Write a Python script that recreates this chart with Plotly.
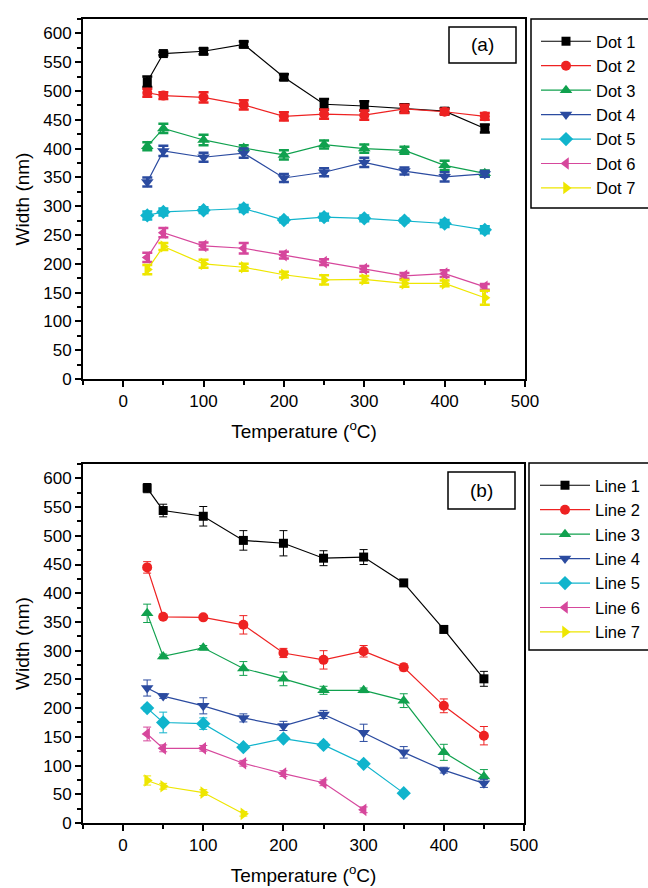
import plotly.graph_objects as go

# Annealing temperatures (°C)
temps = [30, 50, 100, 150, 200, 250, 300, 350, 400, 450]

# (a) dot widths (nm) and error estimates
dot1 = [516, 565, 569, 581, 524, 477, 474, 470, 465, 435]
dot1_err = [9, 3, 5, 5, 5, 9, 8, 7, 5, 7]
dot2 = [497, 492, 489, 476, 456, 460, 458, 469, 464, 456]
dot2_err = [7, 6, 9, 8, 7, 8, 8, 7, 5, 6]
dot3 = [404, 435, 415, 401, 389, 407, 400, 397, 371, 357]
dot3_err = [7, 8, 9, 5, 8, 7, 7, 6, 8, 5]
dot4 = [342, 396, 385, 392, 349, 359, 376, 361, 351, 356]
dot4_err = [8, 9, 8, 8, 7, 7, 8, 6, 8, 5]
dot5 = [284, 290, 293, 296, 276, 281, 279, 275, 270, 259]
dot5_err = [7, 6, 5, 6, 4, 6, 5, 3, 6, 6]
dot6 = [211, 254, 231, 227, 215, 203, 191, 179, 183, 160]
dot6_err = [8, 8, 6, 9, 6, 5, 5, 5, 6, 5]
dot7 = [190, 230, 200, 194, 181, 172, 173, 166, 166, 141]
dot7_err = [8, 6, 7, 6, 5, 8, 6, 6, 5, 12]

# (b) line widths (nm) and error estimates
line1 = [583, 544, 534, 492, 487, 461, 463, 418, 337, 251]
line1_err = [8, 11, 17, 17, 22, 13, 13, 3, 6, 13]
line2 = [445, 359, 358, 345, 296, 284, 299, 271, 204, 152]
line2_err = [10, 3, 3, 16, 8, 16, 10, 6, 12, 16]
line3 = [365, 290, 305, 269, 251, 231, 231, 213, 123, 81]
line3_err = [16, 4, 4, 12, 12, 7, 4, 12, 14, 12]
line4 = [235, 221, 204, 183, 169, 189, 157, 123, 92, 69]
line4_err = [14, 4, 14, 7, 8, 7, 15, 10, 5, 7]
line5 = [200, 175, 173, 132, 147, 136, 103, 52]
line5_err = [5, 18, 10, 4, 4, 5, 3, 3]
line6 = [155, 130, 130, 104, 86, 70, 23]
line6_err = [12, 6, 5, 5, 5, 5, 5]
line7 = [74, 64, 53, 16]
line7_err = [8, 5, 5, 4]

colors = ["#000000", "#ee2222", "#10a14e", "#2b4ba0", "#10b4cc", "#d6479c", "#eee600"]
symbols = ["square", "circle", "triangle-up", "triangle-down", "diamond",
           "triangle-left", "triangle-right"]
sizes = [9, 10, 11, 11, 11, 11, 11]

dots = [dot1, dot2, dot3, dot4, dot5, dot6, dot7]
dot_errs = [dot1_err, dot2_err, dot3_err, dot4_err, dot5_err, dot6_err, dot7_err]
dot_names = ["Dot 1", "Dot 2", "Dot 3", "Dot 4", "Dot 5", "Dot 6", "Dot 7"]
lines = [line1, line2, line3, line4, line5, line6, line7]
line_errs = [line1_err, line2_err, line3_err, line4_err, line5_err, line6_err, line7_err]
line_names = ["Line 1", "Line 2", "Line 3", "Line 4", "Line 5", "Line 6", "Line 7"]

W, H = 648, 888
FONT = "Liberation Sans, Arial, sans-serif"

fig = go.Figure()

for i in range(7):
    fig.add_trace(go.Scatter(
        x=temps[:len(dots[i])], y=dots[i], name=dot_names[i],
        mode="lines+markers", xaxis="x", yaxis="y", legend="legend",
        line=dict(color=colors[i], width=1.2),
        marker=dict(symbol=symbols[i], size=sizes[i], color=colors[i]),
        error_y=dict(type="data", array=dot_errs[i], color=colors[i],
                     thickness=2.5, width=5),
    ))

for i in range(7):
    fig.add_trace(go.Scatter(
        x=temps[:len(lines[i])], y=lines[i], name=line_names[i],
        mode="lines+markers", xaxis="x2", yaxis="y2", legend="legend2",
        line=dict(color=colors[i], width=1.2),
        marker=dict(symbol=symbols[i], size=sizes[i], color=colors[i]),
        error_y=dict(type="data", array=line_errs[i], color=colors[i],
                     thickness=1, width=4),
    ))


def px_x(p):
    return p / W


def px_y(p):
    return 1 - p / H


axis_common = dict(
    showgrid=False, zeroline=False, showline=True, mirror=True, automargin=False,
    linecolor="black", linewidth=2, ticks="outside", ticklen=6,
    tickwidth=1.5, tickcolor="black",
    tickfont=dict(family=FONT, size=17, color="black"),
)

xaxis_common = dict(
    axis_common, range=[-50, 500], tick0=0, dtick=100,
    minor=dict(dtick=50, ticks="outside", ticklen=4, tickcolor="black", tickwidth=1.5),
    title=dict(text="Temperature (<sup>o</sup>C)", font=dict(family=FONT, size=19, color="black"),
               standoff=14),
)
yaxis_common = dict(
    axis_common, range=[0, 625], tick0=0, dtick=50,
    minor=dict(dtick=25, ticks="outside", ticklen=4, tickcolor="black", tickwidth=1.5),
    title=dict(text="Width (nm)", font=dict(family=FONT, size=19, color="black"),
               standoff=9),
)

legend_common = dict(
    bgcolor="rgba(0,0,0,0)", borderwidth=0, xanchor="left", yanchor="top",
    font=dict(family=FONT, size=16.5, color="black"), itemwidth=50,
    tracegroupgap=0,
)

fig.update_layout(
    width=W, height=H, margin=dict(l=0, r=0, t=0, b=0, autoexpand=False),
    paper_bgcolor="white", plot_bgcolor="white",
    xaxis=dict(xaxis_common, domain=[px_x(83), px_x(525)], anchor="y"),
    yaxis=dict(yaxis_common, domain=[px_y(379), px_y(19)], anchor="x"),
    xaxis2=dict(xaxis_common, domain=[px_x(83), px_x(524)], anchor="y2"),
    yaxis2=dict(yaxis_common, domain=[px_y(823), px_y(464)], anchor="x2"),
    legend=dict(legend_common, x=px_x(536), y=px_y(24)),
    legend2=dict(legend_common, x=px_x(535), y=px_y(468)),
    showlegend=True,
)

# Legend frames and panel labels
fig.add_shape(type="rect", xref="paper", yref="paper",
              x0=px_x(531), x1=px_x(660), y0=px_y(208), y1=px_y(19),
              line=dict(color="black", width=1.5))
fig.add_shape(type="rect", xref="paper", yref="paper",
              x0=px_x(529), x1=px_x(660), y0=px_y(650), y1=px_y(463),
              line=dict(color="black", width=1.5))
fig.add_shape(type="rect", xref="paper", yref="paper",
              x0=px_x(449), x1=px_x(516), y0=px_y(63), y1=px_y(27),
              line=dict(color="black", width=1.5))
fig.add_shape(type="rect", xref="paper", yref="paper",
              x0=px_x(448), x1=px_x(515), y0=px_y(509), y1=px_y(472),
              line=dict(color="black", width=1.5))
fig.add_annotation(text="(a)", xref="paper", yref="paper",
                   x=px_x(482), y=px_y(45), xanchor="center", yanchor="middle",
                   showarrow=False, font=dict(family=FONT, size=19, color="black"))
fig.add_annotation(text="(b)", xref="paper", yref="paper",
                   x=px_x(481), y=px_y(490), xanchor="center", yanchor="middle",
                   showarrow=False, font=dict(family=FONT, size=19, color="black"))

fig.write_html("out.html")
